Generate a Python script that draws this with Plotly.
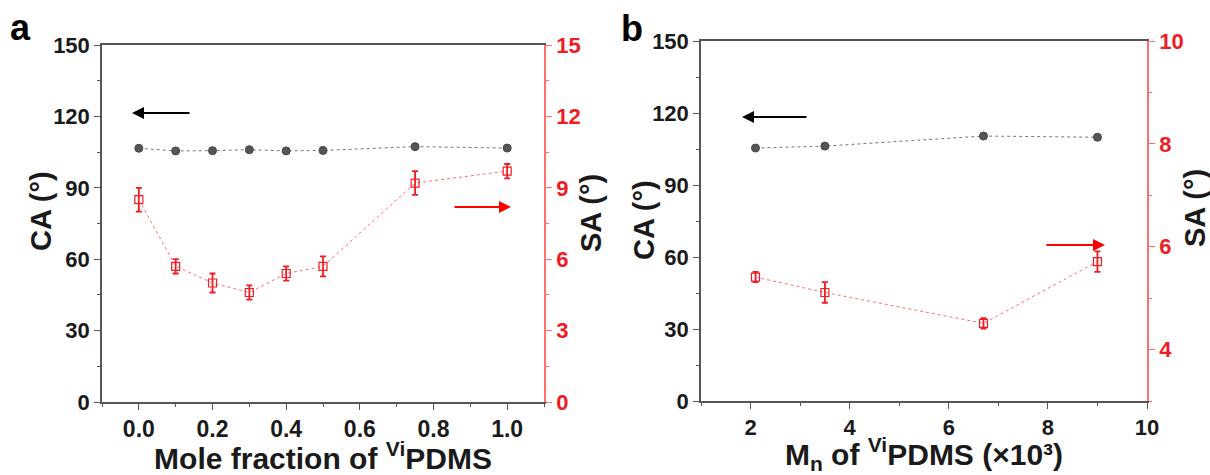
import plotly.graph_objects as go

# Panel a data
mole_frac = [0.0, 0.1, 0.2, 0.3, 0.4, 0.5, 0.75, 1.0]
ca_a = [106.6, 105.5, 105.6, 106.0, 105.5, 105.7, 107.3, 106.7]
sa_a = [8.5, 5.7, 5.0, 4.6, 5.4, 5.7, 9.2, 9.7]
sa_a_err = [0.5, 0.3, 0.4, 0.3, 0.3, 0.42, 0.5, 0.3]

# Panel b data
mn = [2.1, 3.5, 6.7, 9.0]
ca_b = [105.4, 106.2, 110.4, 109.9]
sa_b = [5.41, 5.11, 4.51, 5.71]
sa_b_err = [0.1, 0.2, 0.1, 0.2]

FONT = "Liberation Sans"
BLACK = "#1a1a1a"
AXGRAY = "#555555"
RED = "#ee1c25"
REDLINE = "#ff7070"

fig = go.Figure()

def ca_trace(x, y, xa, ya):
    return go.Scatter(x=x, y=y, xaxis=xa, yaxis=ya, mode="lines+markers",
                      line=dict(color="#777777", width=1, dash="dot"),
                      marker=dict(symbol="circle", size=8, color="#555555",
                                  line=dict(color="#444444", width=1)),
                      showlegend=False)

def sa_trace(x, y, e, xa, ya):
    return go.Scatter(x=x, y=y, xaxis=xa, yaxis=ya, mode="lines+markers",
                      line=dict(color=REDLINE, width=1, dash="dot"),
                      marker=dict(symbol="square-open", size=8, color=RED,
                                  line=dict(width=1.2)),
                      error_y=dict(type="data", array=e, visible=True,
                                   color=RED, thickness=1.8, width=3),
                      showlegend=False)

fig.add_trace(ca_trace(mole_frac, ca_a, "x", "y"))
fig.add_trace(sa_trace(mole_frac, sa_a, sa_a_err, "x", "y2"))
fig.add_trace(ca_trace(mn, ca_b, "x2", "y3"))
fig.add_trace(sa_trace(mn, sa_b, sa_b_err, "x2", "y4"))

W, H = 1210, 475
ax_a = [102 / W, 544 / W]
ax_b = [701 / W, 1147 / W]
dy_a = [(H - 402) / H, (H - 45) / H]
dy_b = [(H - 401) / H, (H - 41) / H]

def f(size, color=BLACK):
    return dict(family=FONT, size=size, color=color, weight="bold")

common_x = dict(showline=True, linecolor=AXGRAY, linewidth=1.5, mirror=True,
                ticks="outside", ticklen=6, tickcolor=AXGRAY, tickwidth=1,
                showgrid=False, zeroline=False, automargin=False)
common_yl = dict(showline=True, linecolor=AXGRAY, linewidth=1.5,
                 ticks="outside", ticklen=6, tickcolor=AXGRAY, tickwidth=1,
                 showgrid=False, zeroline=False, tickfont=f(22),
                 range=[0, 150], tick0=0, dtick=30, automargin=False,
                 minor=dict(ticks="outside", ticklen=3, dtick=15, tickcolor=AXGRAY))
common_yr = dict(showline=True, linecolor=REDLINE, linewidth=1.5,
                 ticks="outside", ticklen=6, tickcolor=REDLINE, tickwidth=1,
                 showgrid=False, zeroline=False, tickfont=f(22, RED),
                 side="right", automargin=False)

fig.update_layout(
    width=W, height=H,
    margin=dict(l=0, r=0, t=0, b=0),
    plot_bgcolor="white", paper_bgcolor="white",
    xaxis=dict(common_x, domain=ax_a, anchor="y", range=[-0.1, 1.1],
               tick0=0, dtick=0.2, tickformat=".1f", tickfont=f(23),
               minor=dict(ticks="outside", ticklen=3, dtick=0.1, tickcolor=AXGRAY),
               title=dict(text="Mole fraction of <sup>Vi</sup>PDMS", standoff=4,
                          font=f(30))),
    yaxis=dict(common_yl, domain=dy_a, anchor="x"),
    yaxis2=dict(common_yr, overlaying="y", anchor="x", range=[0, 15],
                tick0=0, dtick=3,
                minor=dict(ticks="outside", ticklen=3, dtick=1.5, tickcolor=REDLINE)),
    xaxis2=dict(common_x, domain=ax_b, anchor="y3", range=[1, 10],
                tick0=0, dtick=2, tickfont=f(22),
                minor=dict(ticks="outside", ticklen=3, dtick=1, tickcolor=AXGRAY),
                title=dict(text="M<sub>n</sub> of <sup>Vi</sup>PDMS (×10³)",
                           standoff=3, font=f(30))),
    yaxis3=dict(common_yl, domain=dy_b, anchor="x2"),
    yaxis4=dict(common_yr, overlaying="y3", anchor="x2", range=[3, 10],
                tick0=0, dtick=2,
                minor=dict(ticks="outside", ticklen=3, dtick=1, tickcolor=REDLINE)),
)

# vertical axis titles placed as rotated text
def ytitle(text, xc, yc):
    fig.add_annotation(text=text, x=xc / W, y=1 - yc / H, xref="paper", yref="paper",
                       showarrow=False, textangle=-90, xanchor="center",
                       yanchor="middle", font=f(29))

ytitle("CA (°)", 41, 211)
ytitle("SA (°)", 591, 213)
ytitle("CA (°)", 644, 220)
ytitle("SA (°)", 1195, 208)

# panel labels
fig.add_annotation(text="a", x=8 / W, y=1 - 27 / H, xref="paper", yref="paper",
                   showarrow=False, xanchor="left", yanchor="middle",
                   font=dict(family=FONT, size=36, color="black", weight="bold"))
fig.add_annotation(text="b", x=619 / W, y=1 - 29 / H, xref="paper", yref="paper",
                   showarrow=False, xanchor="left", yanchor="middle",
                   font=dict(family=FONT, size=36, color="black", weight="bold"))

# direction arrows (head at x1, tail offset in pixels)
def arrow(x0, x1, y, color):
    fig.add_annotation(x=x1 / W, y=1 - y / H, ax=x0 - x1, ay=0,
                       xref="paper", yref="paper", axref="pixel", ayref="pixel",
                       text="", showarrow=True, arrowhead=2, arrowsize=1.2,
                       arrowwidth=2, arrowcolor=color)

arrow(191, 132, 113, "black")
arrow(453, 511, 207, "#ff0000")
arrow(808, 742, 117, "black")
arrow(1045, 1105, 245, "#ff0000")

fig.write_html("out.html")
